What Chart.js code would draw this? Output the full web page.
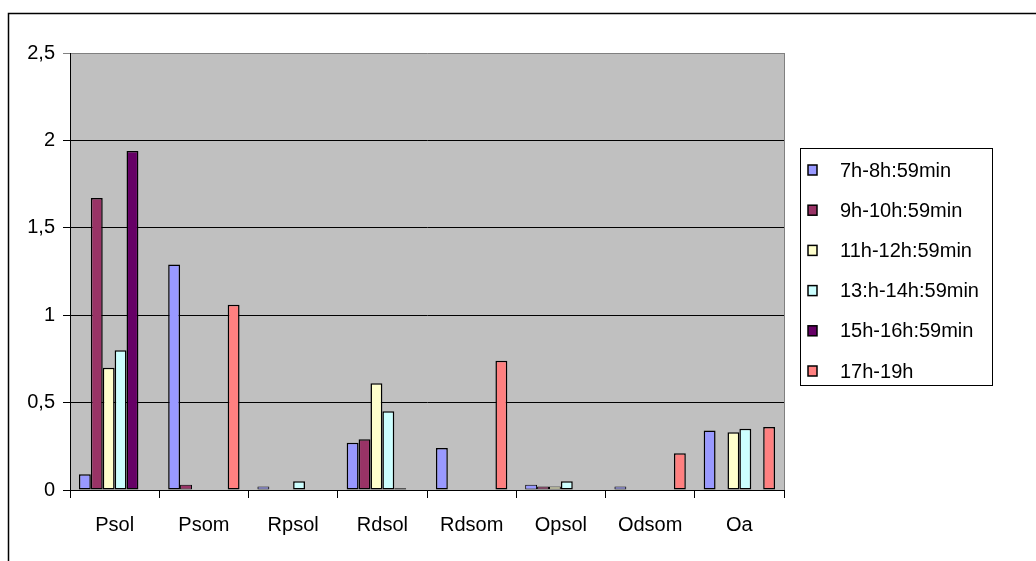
<!DOCTYPE html>
<html>
<head>
<meta charset="utf-8">
<title>Chart</title>
<script src="https://cdn.jsdelivr.net/npm/chart.js@4/dist/chart.umd.min.js"></script>
<style>
  html, body { margin: 0; padding: 0; background: #fff; }
  canvas { display: block; }
</style>
</head>
<body>
<canvas id="grafica" width="1036" height="561"></canvas>
<script>
// categorias del eje x
var categorias = ['Psol', 'Psom', 'Rpsol', 'Rdsol', 'Rdsom', 'Opsol', 'Odsom', 'Oa'];
// series (franjas horarias)
var series = ['7h-8h:59min', '9h-10h:59min', '11h-12h:59min', '13:h-14h:59min', '15h-16h:59min', '17h-19h'];
var colores = ['#9999FF', '#993366', '#FFFFCC', '#CCFFFF', '#660066', '#FF8080'];
// valores de cada serie
var v7h  = [0.09, 1.29, 0.02, 0.27, 0.24, 0.03, 0.02, 0.34];
var v9h  = [1.67, 0.03, 0,    0.29, 0,    0.02, 0,    0];
var v11h = [0.70, 0,    0,    0.61, 0,    0.02, 0,    0.33];
var v13h = [0.80, 0,    0.05, 0.45, 0,    0.05, 0,    0.35];
var v15h = [1.94, 0,    0,    0.01, 0,    0,    0,    0];
var v17h = [0,    1.06, 0,    0,    0.74, 0,    0.21, 0.36];
var valores = [v7h, v9h, v11h, v13h, v15h, v17h];
// eje y
var yMin = 0, yMax = 2.5, yPaso = 0.5;

var fuente = "'Liberation Sans', Arial, sans-serif";
Chart.defaults.font.family = fuente;
Chart.defaults.color = '#000';

var datasets = [];
for (var i = 0; i < series.length; i++) {
    datasets.push({
        label: series[i],
        data: valores[i],
        backgroundColor: colores[i],
        borderColor: '#000',
        // sin borde en ceros, borde fino en barras muy bajas
        borderWidth: function (c) {
            if (!c.raw) return 0;
            return c.raw < 0.04 ? 1 : 1.5;
        },
        borderSkipped: false,
        categoryPercentage: 0.8,
        barPercentage: 1.0
    });
}

// fondo gris del area de trazado y marco exterior
var fondo = {
    id: 'fondo',
    beforeDraw: function (chart) {
        var ctx = chart.ctx, a = chart.chartArea;
        ctx.save();
        ctx.fillStyle = '#fff';
        ctx.fillRect(0, 0, chart.width, chart.height);
        ctx.fillStyle = '#C0C0C0';
        ctx.fillRect(a.left, a.top, a.right - a.left, a.bottom - a.top);
        ctx.restore();
    },
    afterDraw: function (chart) {
        var ctx = chart.ctx, a = chart.chartArea;
        ctx.save();
        // borde derecho del area
        ctx.strokeStyle = '#808080';
        ctx.lineWidth = 1;
        ctx.beginPath();
        ctx.moveTo(a.right + 0.5, a.top);
        ctx.lineTo(a.right + 0.5, a.bottom);
        ctx.stroke();
        // marco del grafico
        ctx.strokeStyle = '#000';
        ctx.lineWidth = 1.5;
        ctx.beginPath();
        ctx.moveTo(8.5, chart.height);
        ctx.lineTo(8.5, 13.5);
        ctx.lineTo(chart.width, 13.5);
        ctx.stroke();
        ctx.restore();
    }
};

// leyenda con recuadro a la derecha
var leyenda = {
    id: 'leyenda',
    afterDraw: function (chart) {
        var ctx = chart.ctx;
        var x = 800, y = 148, w = 192, h = 237;
        ctx.save();
        ctx.fillStyle = '#fff';
        ctx.fillRect(x, y, w, h);
        ctx.strokeStyle = '#000';
        ctx.lineWidth = 1;
        ctx.strokeRect(x + 0.5, y + 0.5, w, h);
        ctx.font = '20px ' + fuente;
        ctx.textBaseline = 'middle';
        ctx.textAlign = 'left';
        chart.data.datasets.forEach(function (ds, k) {
            var cy = 170 + k * 40.2;
            ctx.fillStyle = ds.backgroundColor;
            ctx.fillRect(808, cy - 5, 9, 10);
            ctx.strokeStyle = '#000';
            ctx.lineWidth = 1.5;
            ctx.strokeRect(808, cy - 5, 9, 10);
            ctx.fillStyle = '#000';
            ctx.fillText(ds.label, 840, cy + 1);
        });
        ctx.restore();
    }
};

var ctx = document.getElementById('grafica');
new Chart(ctx, {
    type: 'bar',
    data: { labels: categorias, datasets: datasets },
    options: {
        responsive: false,
        animation: false,
        events: [],
        layout: { padding: { left: 8, top: 53, right: 252, bottom: 0 } },
        plugins: { legend: { display: false }, tooltip: { enabled: false } },
        scales: {
            x: {
                afterFit: function (s) { s.height = 71; },
                grid: { drawOnChartArea: false, drawTicks: true, tickLength: 8, color: '#000', offset: true },
                border: { color: '#000', width: 1 },
                ticks: { font: { size: 20 }, color: '#000', padding: 15, maxRotation: 0 }
            },
            y: {
                min: yMin,
                max: yMax,
                afterFit: function (s) { s.width = 62; },
                grid: {
                    tickLength: 7,
                    color: function (c) { return c.tick && c.tick.value === yMax ? '#808080' : '#000'; }
                },
                border: { color: '#000', width: 1 },
                ticks: {
                    stepSize: yPaso,
                    padding: 8,
                    font: { size: 20 },
                    color: '#000',
                    callback: function (v) { return String(v).replace('.', ','); }
                }
            }
        }
    },
    plugins: [fondo, leyenda]
});
</script>
</body>
</html>
